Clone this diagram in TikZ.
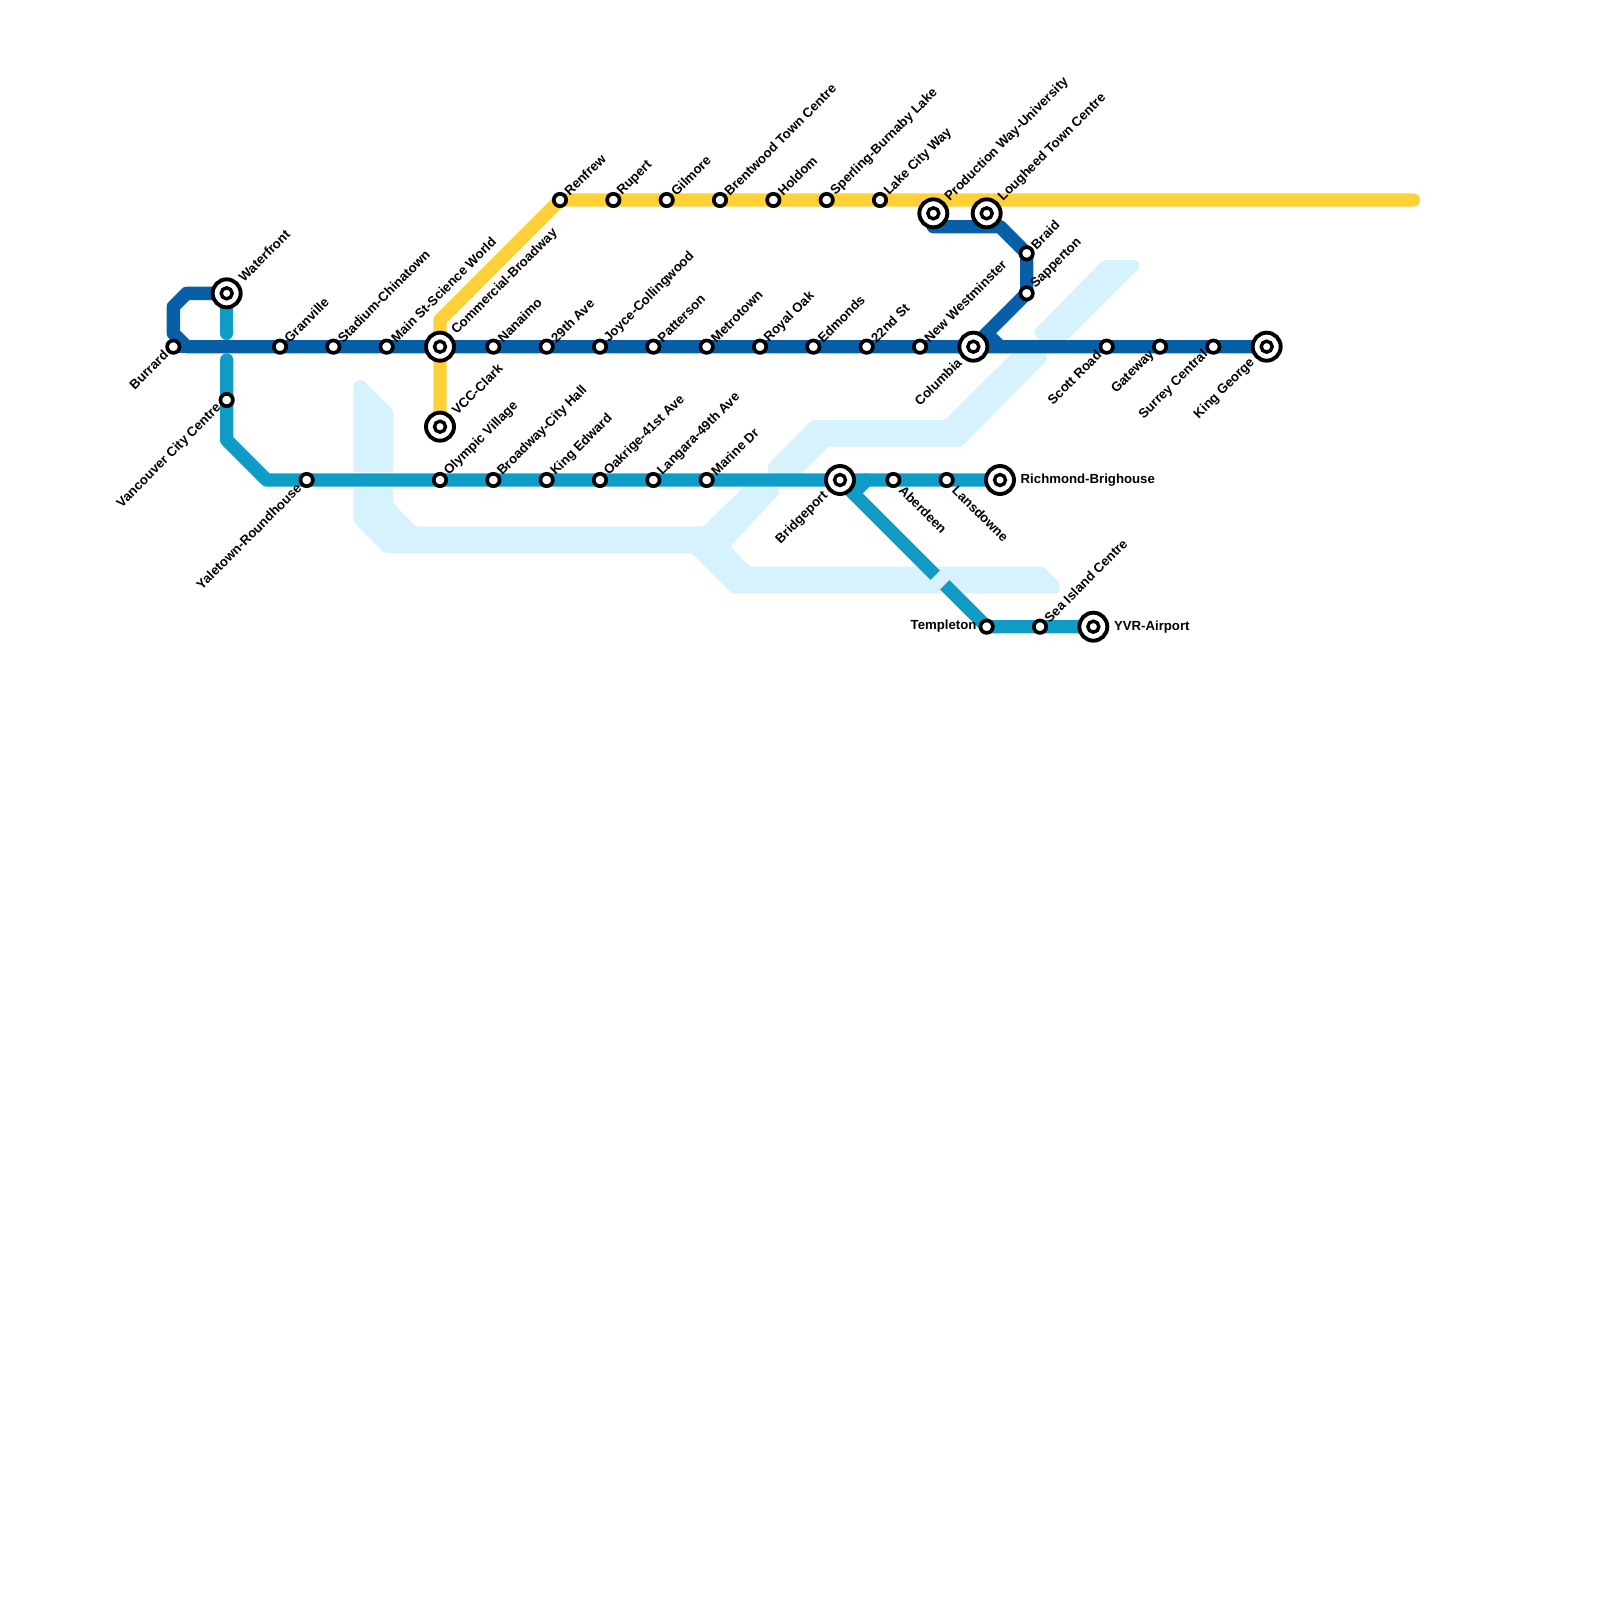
\documentclass[tikz,border=0pt]{standalone}
\usepackage{fontspec}
\setmainfont{Liberation Sans}
\usetikzlibrary{calc}
\pgfdeclarelayer{bg}
\pgfsetlayers{bg,main}
\definecolor{yline}{HTML}{FFD037}
\definecolor{dline}{HTML}{075FA8}
\definecolor{cline}{HTML}{0F9DC7}
\definecolor{water}{HTML}{D5F2FD}
\tikzset{
  stn/.style={circle,draw=black,fill=white,line width=3.7pt,inner sep=0pt,minimum size=12.4pt},
  hubin/.style={circle,draw=black,fill=white,line width=3.4pt,inner sep=0pt,minimum size=11pt},
  hub/.style={circle,draw=black,fill=white,line width=3.9pt,inner sep=0pt,minimum size=28pt},
  lab/.style={inner sep=0pt,font=\bfseries\fontsize{13.2pt}{14pt}\selectfont,text=black},
  labne/.style={lab,rotate=45,anchor=west},
  labsw/.style={lab,rotate=45,anchor=east},
  labse/.style={lab,rotate=-45,anchor=west},
  wat/.style={fill=water,rounded corners=3pt},
  metro/.style={line width=13.33pt,line cap=round,line join=round},
}
\newcommand\sNE[4]{\node[stn] (#1) at (#2,#3) {}; \node[labne] (#1-l) at ($(#1.center)+(6.5pt,6.5pt)$) {#4};}
\newcommand\sSW[4]{\node[stn] (#1) at (#2,#3) {}; \node[labsw] (#1-l) at ($(#1.center)+(-7.5pt,-6pt)$) {#4};}
\newcommand\sSE[4]{\node[stn] (#1) at (#2,#3) {}; \node[labse] (#1-l) at ($(#1.center)+(8pt,-8pt)$) {#4};}
\newcommand\hNE[4]{\node[hub] (#1) at (#2,#3) {}; \node[hubin] (#1-i) at (#1.center) {}; \node[labne] (#1-l) at ($(#1.center)+(14pt,14pt)$) {#4};}
\newcommand\hSW[4]{\node[hub] (#1) at (#2,#3) {}; \node[hubin] (#1-i) at (#1.center) {}; \node[labsw] (#1-l) at ($(#1.center)+(-14pt,-14pt)$) {#4};}
\newcommand\hE[4]{\node[hub] (#1) at (#2,#3) {}; \node[hubin] (#1-i) at (#1.center) {}; \node[lab,anchor=west] (#1-l) at ($(#1.center)+(20.5pt,0pt)$) {#4};}
\begin{document}
\begin{tikzpicture}[x=13.3333pt,y=-13.3333pt]
\useasboundingbox (0,0) rectangle (120,120);
\begin{pgfonlayer}{bg}
\fill[white] (0,0) rectangle (120,120);
\end{pgfonlayer}
\sSW{burrard}{13}{26}{Burrard}
\sNE{granville}{21}{26}{Granville}
\sNE{stadium}{25}{26}{Stadium-Chinatown}
\sNE{mainst}{29}{26}{Main St-Science World}
\hNE{commercial}{33}{26}{Commercial-Broadway}
\sNE{nanaimo}{37}{26}{Nanaimo}
\sNE{ave29}{41}{26}{29th Ave}
\sNE{joyce}{45}{26}{Joyce-Collingwood}
\sNE{patterson}{49}{26}{Patterson}
\sNE{metrotown}{53}{26}{Metrotown}
\sNE{royaloak}{57}{26}{Royal Oak}
\sNE{edmonds}{61}{26}{Edmonds}
\sNE{st22}{65}{26}{22nd St}
\sNE{newwest}{69}{26}{New Westminster}
\hSW{columbia}{73}{26}{Columbia}
\sSW{scott}{83}{26}{Scott Road}
\sSW{gateway}{87}{26}{Gateway}
\sSW{surrey}{91}{26}{Surrey Central}
\hSW{kinggeorge}{95}{26}{King George}
\hNE{waterfront}{17}{22}{Waterfront}
\hNE{vcc}{33}{32}{VCC-Clark}
\sNE{renfrew}{42}{15}{Renfrew}
\sNE{rupert}{46}{15}{Rupert}
\sNE{gilmore}{50}{15}{Gilmore}
\sNE{brentwood}{54}{15}{Brentwood Town Centre}
\sNE{holdom}{58}{15}{Holdom}
\sNE{sperling}{62}{15}{Sperling-Burnaby Lake}
\sNE{lakecity}{66}{15}{Lake City Way}
\hNE{production}{70}{16}{Production Way-University}
\hNE{lougheed}{74}{16}{Lougheed Town Centre}
\sNE{braid}{77}{19}{Braid}
\sNE{sapperton}{77}{22}{Sapperton}
\sSW{vancity}{17}{30}{Vancouver City Centre}
\sSW{yaletown}{23}{36}{Yaletown-Roundhouse}
\sNE{olympic}{33}{36}{Olympic Village}
\sNE{broadway}{37}{36}{Broadway-City Hall}
\sNE{kinged}{41}{36}{King Edward}
\sNE{oakridge}{45}{36}{Oakrige-41st Ave}
\sNE{langara}{49}{36}{Langara-49th Ave}
\sNE{marine}{53}{36}{Marine Dr}
\hSW{bridgeport}{63}{36}{Bridgeport}
\sSE{aberdeen}{67}{36}{Aberdeen}
\sSE{lansdowne}{71}{36}{Lansdowne}
\hE{richmond}{75}{36}{Richmond-Brighouse}
\node[stn] (templeton) at (74,47) {};
\node[lab,anchor=east] (templeton-l) at ($(templeton.center)+(-10pt,0.5pt)$) {Templeton};
\sNE{seaisland}{78}{47}{Sea Island Centre}
\hE{yvr}{82}{47}{YVR-Airport}
\coordinate (yA) at (33,24);
\coordinate (yEnd) at (106,15);
\coordinate (dA) at (14,22);
\coordinate (dB) at (13,23);
\coordinate (dC) at (13,25);
\coordinate (dD) at (14,26);
\coordinate (dE) at (70,17);
\coordinate (dF) at (75,17);
\coordinate (dG) at (74,25);
\coordinate (dH) at (75,26);
\coordinate (cA) at (17,25);
\coordinate (cB) at (17,27);
\coordinate (cC) at (17,33);
\coordinate (cD) at (20,36);
\coordinate (cE) at (65,36);
\coordinate (cF) at (64,37);
\begin{pgfonlayer}{bg}
\begin{scope}[x=1pt,y=-1pt]
\fill[wat] (353.3,472) -- (353.3,384) -- (357,380) -- (363,380) -- (393.3,410) -- (393.3,472) -- cycle;
\fill[wat] (353.3,488) -- (393.3,488) -- (393.3,503.3) -- (416,526.67) -- (703,526.67) -- (744,486.67) -- (778,486.67) -- (780,493) -- (730,546.67) -- (750,566.67) -- (1043,566.67) -- (1060,583) -- (1059,593.3) -- (731.67,593.3) -- (691.67,553.3) -- (385,553.3) -- (353.3,521.7) -- cycle;
\fill[wat] (771,461.67) -- (811.67,420) -- (945,420) -- (1012,353.3) -- (1046,353.3) -- (1047,360) -- (961.67,446.67) -- (828.33,446.67) -- (800,475) -- (770,475) -- (766.67,466) -- cycle;
\fill[wat] (1036.67,328) -- (1103,260) -- (1138,260) -- (1140,267) -- (1067,340) -- (1040,340.5) -- (1033,333) -- cycle;
\end{scope}
\draw[metro,yline] (vcc.center) -- (commercial.center) -- (yA) -- (renfrew.center) -- (yEnd);
\draw[metro,cline] (waterfront.center) -- (cA);
\draw[metro,cline] (cB) -- (vancity.center) -- (cC) -- (cD) -- (richmond.center);
\draw[metro,cline] (bridgeport.center) -- (templeton.center) -- (yvr.center);
\draw[metro,cline] (cE) -- (cF);
\draw[water,line width=13.4pt] (70.9,43.1) -- (70.1,43.9);
\draw[metro,dline] (waterfront.center) -- (dA) -- (dB) -- (dC) -- (dD) -- (kinggeorge.center);
\draw[metro,dline] (burrard.center) -- (dD);
\draw[metro,dline] (dE) -- (dF) -- (braid.center) -- (sapperton.center) -- (dG) -- (columbia.center);
\draw[metro,dline] (dG) -- (dH);
\end{pgfonlayer}
\end{tikzpicture}
\end{document}
